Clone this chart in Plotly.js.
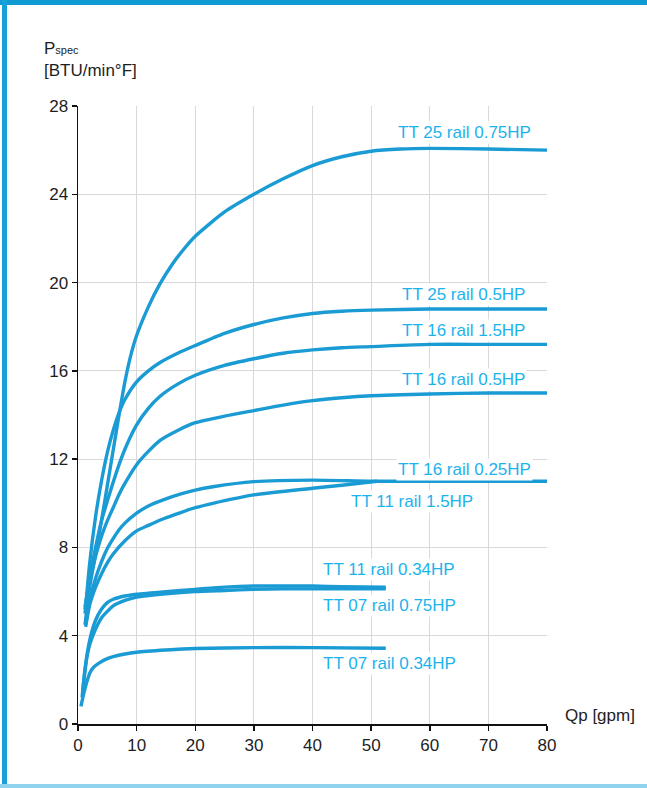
<!DOCTYPE html>
<html>
<head>
<meta charset="utf-8">
<script src="https://cdn.plot.ly/plotly-3.0.1.min.js"></script>
<style>
  html, body { margin: 0; padding: 0; background: #fff; }
  #wrap { position: relative; width: 647px; height: 788px; overflow: hidden; }
  #chart { position: absolute; left: 0; top: 0; width: 647px; height: 788px; }
  .bar { position: absolute; }
</style>
</head>
<body>
<div id="wrap">
  <div id="chart"></div>
  <div class="bar" style="left:0;top:0;width:647px;height:5px;background:#0f9ad4;"></div>
  <div class="bar" style="left:2px;top:0;width:5px;height:788px;background:#1aa0d8;"></div>
  <div class="bar" style="left:0;top:784px;width:647px;height:4px;background:#8fd3ee;"></div>
</div>
<script>
// ---- data ----
const names = [
  "TT 25 rail 0.75HP", "TT 25 rail 0.5HP", "TT 16 rail 1.5HP", "TT 16 rail 0.5HP",
  "TT 16 rail 0.25HP", "TT 11 rail 1.5HP", "TT 11 rail 0.34HP", "TT 07 rail 0.75HP",
  "TT 07 rail 0.34HP"
];

const x25_075 = [1.2, 2, 3, 4, 5, 6, 7, 8, 9, 10, 12, 14, 16, 18, 20, 25, 30, 35, 40, 45, 50, 55, 60, 70, 80];
const y25_075 = [4.5, 6.2, 7.7, 9.2, 10.8, 12.4, 14.0, 15.5, 16.7, 17.6, 18.9, 19.95, 20.8, 21.5, 22.1, 23.2, 24.0, 24.7, 25.3, 25.7, 25.95, 26.05, 26.08, 26.05, 26.0];

const x25_05 = [1.2, 2, 3, 4, 5, 6, 7, 8, 10, 12, 14, 17, 20, 25, 30, 35, 40, 45, 50, 60, 70, 80];
const y25_05 = [5.0, 7.3, 9.4, 11.0, 12.3, 13.3, 14.1, 14.7, 15.5, 16.0, 16.38, 16.8, 17.15, 17.7, 18.1, 18.4, 18.6, 18.7, 18.75, 18.8, 18.8, 18.8];

const x16_15 = [1.2, 2, 3, 4, 5, 6, 7, 8, 10, 12, 14, 17, 20, 25, 30, 35, 40, 45, 50, 60, 70, 80];
const y16_15 = [5.2, 6.6, 8.0, 9.2, 10.1, 10.95, 11.75, 12.45, 13.55, 14.3, 14.85, 15.4, 15.8, 16.25, 16.55, 16.8, 16.95, 17.05, 17.1, 17.2, 17.2, 17.2];

const x16_05 = [1.2, 2, 3, 4, 5, 6, 7, 8, 10, 12, 14, 17, 20, 25, 30, 35, 40, 45, 50, 60, 70, 80];
const y16_05 = [5.3, 6.5, 7.6, 8.5, 9.2, 9.8, 10.4, 10.9, 11.75, 12.35, 12.85, 13.3, 13.65, 13.95, 14.2, 14.45, 14.65, 14.78, 14.87, 14.95, 15.0, 15.0];

const x16_025 = [1.3, 2, 3, 4, 5, 6, 7, 8, 10, 12, 15, 17.4, 20, 23, 30, 40, 50, 60, 70, 80];
const y16_025 = [4.5, 5.6, 6.6, 7.35, 7.95, 8.4, 8.8, 9.1, 9.55, 9.88, 10.2, 10.42, 10.6, 10.75, 10.98, 11.05, 11.0, 11.0, 11.0, 11.0];

const x11_15 = [1.3, 2, 3, 4, 5, 6, 8, 10, 12, 14.6, 17.4, 20, 23, 30, 40, 45, 51];
const y11_15 = [4.4, 5.4, 6.2, 6.8, 7.3, 7.7, 8.3, 8.75, 9.0, 9.3, 9.57, 9.8, 10.0, 10.38, 10.68, 10.82, 11.0];

const x11_034 = [0.7, 1.2, 2, 3, 4, 5, 6, 8, 10, 15, 20, 25, 30, 35, 40, 45, 52.5];
const y11_034 = [1.2, 2.5, 3.8, 4.7, 5.2, 5.5, 5.65, 5.8, 5.88, 6.0, 6.1, 6.2, 6.25, 6.25, 6.25, 6.22, 6.2];

const x07_075 = [0.8, 1.5, 2, 3, 4, 5, 6, 8, 10, 15, 20, 25, 30, 35, 40, 45, 52.5];
const y07_075 = [1.5, 3.0, 3.6, 4.3, 4.8, 5.1, 5.35, 5.6, 5.75, 5.9, 6.0, 6.05, 6.1, 6.12, 6.12, 6.12, 6.12];

const x07_034 = [0.5, 1, 1.5, 2, 2.6, 3.5, 5, 6, 8, 10, 15, 20, 30, 40, 52.5];
const y07_034 = [0.8, 1.4, 1.9, 2.3, 2.55, 2.75, 2.96, 3.05, 3.17, 3.25, 3.35, 3.42, 3.46, 3.46, 3.43];

const xTicks = [0, 10, 20, 30, 40, 50, 60, 70, 80];
const yTicks = [0, 4, 8, 12, 16, 20, 24, 28];

// ---- label anchors (layout, in axis units) ----
const labelAnchors = [
  [65.9, 26.82], [65.75, 19.44], [65.75, 17.85], [65.75, 15.59],
  [66.0, 11.55], [57.05, 10.07], [53.1, 6.98], [53.1, 5.39], [53.1, 2.76]
];

const seriesX = [x25_075, x25_05, x16_15, x16_05, x16_025, x11_15, x11_034, x07_075, x07_034];
const seriesY = [y25_075, y25_05, y16_15, y16_05, y16_025, y11_15, y11_034, y07_075, y07_034];

const lineColor = '#1b9bd4';
const labelColor = '#1cb3ec';
const axisTextColor = '#1e1e1e';

const traces = seriesX.map((xs, i) => ({
  x: xs, y: seriesY[i], name: names[i], type: 'scatter', mode: 'lines',
  line: { color: lineColor, width: 3.4, shape: 'spline', smoothing: 0.6 },
  hoverinfo: 'skip'
}));

const annotations = names.map((n, i) => ({
  x: labelAnchors[i][0], y: labelAnchors[i][1], xref: 'x', yref: 'y',
  text: n, showarrow: false, xanchor: 'center', yanchor: 'middle',
  font: { family: 'Liberation Sans, Arial, sans-serif', size: 17, color: labelColor },
  bgcolor: '#ffffff', borderpad: 1
}));

annotations.push({
  xref: 'paper', yref: 'paper', x: -0.077, y: 1.076, xanchor: 'left', yanchor: 'middle',
  align: 'left', showarrow: false,
  text: 'P<span style="font-size:11px">spec</span><br>[BTU/min°F]',
  font: { family: 'Liberation Sans, Arial, sans-serif', size: 17, color: axisTextColor }
});
annotations.push({
  xref: 'paper', yref: 'paper', x: 1.034, y: 0.013, xanchor: 'left', yanchor: 'middle',
  showarrow: false, text: 'Qp [gpm]',
  font: { family: 'Liberation Sans, Arial, sans-serif', size: 17, color: axisTextColor }
});

const layout = {
  width: 647, height: 788,
  margin: { l: 78, r: 100, t: 106, b: 64 },
  paper_bgcolor: '#ffffff', plot_bgcolor: '#ffffff',
  showlegend: false,
  font: { family: 'Liberation Sans, Arial, sans-serif', size: 17, color: axisTextColor },
  xaxis: {
    range: [0, 80], tickvals: xTicks, ticktext: xTicks.map(String),
    showline: true, linecolor: '#111', linewidth: 1.5,
    ticks: 'outside', ticklen: 5, tickwidth: 1.5, tickcolor: '#111',
    showgrid: true, gridcolor: '#d9d9d9', gridwidth: 1.2, zeroline: false,
    tickfont: { size: 17, color: axisTextColor }, fixedrange: true
  },
  yaxis: {
    range: [0, 28], tickvals: yTicks, ticktext: yTicks.map(String),
    showline: true, linecolor: '#111', linewidth: 1.5,
    ticks: 'outside', ticklen: 5, tickwidth: 1.5, tickcolor: '#111',
    showgrid: true, gridcolor: '#d9d9d9', gridwidth: 1.2, zeroline: false,
    tickfont: { size: 17, color: axisTextColor }, fixedrange: true
  },
  annotations: annotations
};

Plotly.newPlot('chart', traces, layout, { staticPlot: true, displayModeBar: false });
</script>
</body>
</html>
